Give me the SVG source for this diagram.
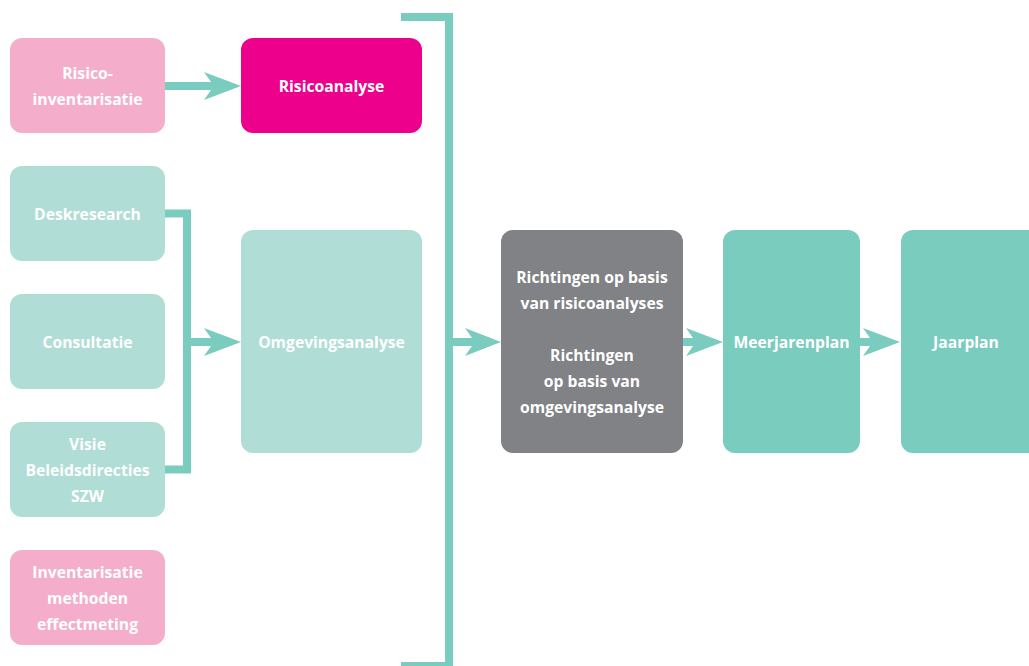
<svg xmlns="http://www.w3.org/2000/svg" width="1029" height="666" viewBox="0 0 1029 666">
<style>
.pink{fill:#F4AECB}
.mag{fill:#EC008C}
.lt{fill:#B0DDD5}
.gray{fill:#808285}
.tl{fill:#7ACCBE}
text{font-family:"Open Sans","Liberation Sans",sans-serif;font-weight:bold;font-size:15.7px;fill:#fff;text-anchor:middle}
.line{fill:none;stroke:#7ACCBE;stroke-width:8}
.arr{fill:#7ACCBE}
</style>
<rect width="1029" height="666" fill="#fff"/>
<g id="connectors">
<path class="arr" d="M165,82 H211 L204,72 L241,86 L204,100 L211,90 H165 Z"/>
<polyline class="line" points="165,213.5 187,213.5 187,469.5 165,469.5"/>
<path class="arr" d="M187,338 H211 L204,328 L241,342 L204,356 L211,346 H187 Z"/>
<polyline class="line" points="401,17 449,17 449,670"/>
<polyline class="line" points="401,666 449,666"/>
<path class="arr" d="M449,338 H472 L465,328 L501,342 L465,356 L472,346 H449 Z"/>
<path class="arr" d="M683,338 H693 L686,328 L723,342 L686,356 L693,346 H683 Z"/>
<path class="arr" d="M860,338 H870 L863,328 L900,342 L863,356 L870,346 H860 Z"/>
</g>
<g id="n-risicoinv"><rect class="pink" x="10" y="38" width="155" height="95" rx="12"/><text x="87.5" y="79">Risico-</text><text x="87.5" y="105">inventarisatie</text></g>
<g id="n-risicoanalyse"><rect class="mag" x="241" y="38" width="181" height="95" rx="12"/><text x="331.5" y="92">Risicoanalyse</text></g>
<g id="n-desk"><rect class="lt" x="10" y="166" width="155" height="95" rx="12"/><text x="87.5" y="220">Deskresearch</text></g>
<g id="n-consultatie"><rect class="lt" x="10" y="294" width="155" height="95" rx="12"/><text x="87.5" y="348">Consultatie</text></g>
<g id="n-visie"><rect class="lt" x="10" y="422" width="155" height="95" rx="12"/><text x="87.5" y="450">Visie</text><text x="87.5" y="476">Beleidsdirecties</text><text x="87.5" y="502">SZW</text></g>
<g id="n-invmethoden"><rect class="pink" x="10" y="550" width="155" height="95" rx="12"/><text x="87.5" y="578">Inventarisatie</text><text x="87.5" y="604">methoden</text><text x="87.5" y="630">effectmeting</text></g>
<g id="n-omgeving"><rect class="lt" x="241" y="230" width="181" height="223" rx="12"/><text x="331.5" y="348">Omgevingsanalyse</text></g>
<g id="n-richtingen"><rect class="gray" x="501" y="230" width="182" height="223" rx="12"/><text x="592" y="283">Richtingen op basis</text><text x="592" y="309">van risicoanalyses</text><text x="592" y="361">Richtingen</text><text x="592" y="387">op basis van</text><text x="592" y="413">omgevingsanalyse</text></g>
<g id="n-meerjarenplan"><rect class="tl" x="723" y="230" width="137" height="223" rx="12"/><text x="791.5" y="348">Meerjarenplan</text></g>
<g id="n-jaarplan"><rect class="tl" x="901" y="230" width="140" height="223" rx="12"/><text x="966" y="348">Jaarplan</text></g>
</svg>
